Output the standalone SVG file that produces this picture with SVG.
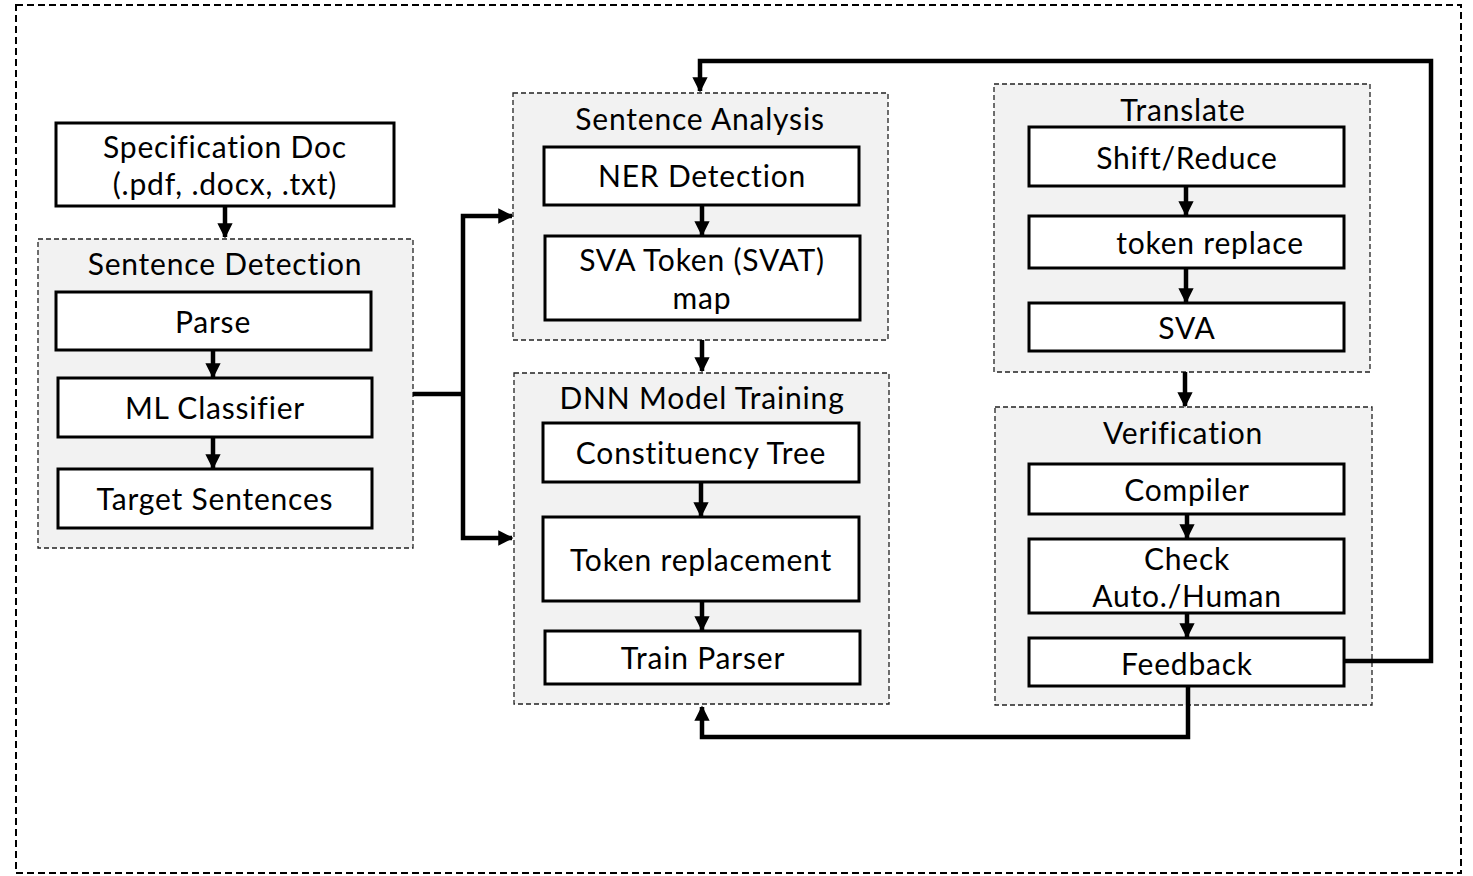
<svg xmlns="http://www.w3.org/2000/svg" width="1473" height="876" viewBox="0 0 1473 876">
<style>
.grp{fill:#f2f2f2;stroke:#222;stroke-width:1.3;stroke-dasharray:5 3}
.box{fill:#fff;stroke:#000;stroke-width:3}
.t{font-family:Lato,"Open Sans",sans-serif;font-size:30px;letter-spacing:0.8px;fill:#000;text-anchor:middle}
.c{fill:none;stroke:#000;stroke-width:4.5;stroke-linejoin:miter}
</style>
<defs>
<marker id="ah" viewBox="0 0 10 10" refX="9" refY="5" markerWidth="3.4" markerHeight="3.4" orient="auto" markerUnits="strokeWidth">
<path d="M0,0 L10,5 L0,10 Z" fill="#000"/>
</marker>
</defs>
<rect x="16" y="5" width="1445" height="868" fill="none" stroke="#000" stroke-width="2" stroke-dasharray="7 4"/>

<g id="spec">
<rect class="box" x="56" y="123" width="338" height="83"/>
<text class="t" x="225" y="158">Specification Doc</text>
<text class="t" x="225" y="195">(.pdf, .docx, .txt)</text>
</g>

<g id="sentence-detection">
<rect class="grp" x="38" y="239" width="375" height="309"/>
<text class="t" x="225" y="275">Sentence Detection</text>
<rect class="box" x="56" y="292" width="315" height="58"/>
<text class="t" x="213" y="333">Parse</text>
<rect class="box" x="58" y="378" width="314" height="59"/>
<text class="t" x="215" y="419">ML Classifier</text>
<rect class="box" x="58" y="469" width="314" height="59"/>
<text class="t" x="215" y="510">Target Sentences</text>
</g>

<g id="sentence-analysis">
<rect class="grp" x="513" y="93" width="375" height="247"/>
<text class="t" x="700" y="130">Sentence Analysis</text>
<rect class="box" x="544" y="147" width="315" height="58"/>
<text class="t" x="702" y="187">NER Detection</text>
<rect class="box" x="545" y="236" width="315" height="84"/>
<text class="t" x="702" y="271">SVA Token (SVAT)</text>
<text class="t" x="702" y="309">map</text>
</g>

<g id="dnn-training">
<rect class="grp" x="514" y="373" width="375" height="331"/>
<text class="t" x="702" y="409">DNN Model Training</text>
<rect class="box" x="543" y="423" width="316" height="59"/>
<text class="t" x="701" y="464">Constituency Tree</text>
<rect class="box" x="543" y="517" width="316" height="84"/>
<text class="t" x="701" y="571">Token replacement</text>
<rect class="box" x="545" y="631" width="315" height="53"/>
<text class="t" x="703" y="669">Train Parser</text>
</g>

<g id="translate">
<rect class="grp" x="994" y="84" width="376" height="288"/>
<text class="t" x="1183" y="121">Translate</text>
<rect class="box" x="1029" y="127" width="315" height="59"/>
<text class="t" x="1187" y="169">Shift/Reduce</text>
<rect class="box" x="1029" y="216" width="315" height="52"/>
<text class="t" x="1210" y="254">token replace</text>
<rect class="box" x="1029" y="303" width="315" height="48"/>
<text class="t" x="1187" y="339">SVA</text>
</g>

<g id="verification">
<rect class="grp" x="995" y="407" width="377" height="298"/>
<text class="t" x="1183" y="444">Verification</text>
<rect class="box" x="1029" y="464" width="315" height="50"/>
<text class="t" x="1187" y="501">Compiler</text>
<rect class="box" x="1029" y="539" width="315" height="74"/>
<text class="t" x="1187" y="570">Check</text>
<text class="t" x="1187" y="607">Auto./Human</text>
<rect class="box" x="1029" y="638" width="315" height="48"/>
<text class="t" x="1187" y="675">Feedback</text>
</g>

<g id="connectors">
<path class="c" d="M225,206 V237" marker-end="url(#ah)"/>
<path class="c" d="M213,350 V377" marker-end="url(#ah)"/>
<path class="c" d="M213,437 V468" marker-end="url(#ah)"/>
<path class="c" d="M413,394 H463"/>
<path class="c" d="M463,394 V538 H512" marker-end="url(#ah)"/>
<path class="c" d="M463,394 V216 H512" marker-end="url(#ah)"/>
<path class="c" d="M702,205 V235" marker-end="url(#ah)"/>
<path class="c" d="M702,340 V371" marker-end="url(#ah)"/>
<path class="c" d="M701,482 V516" marker-end="url(#ah)"/>
<path class="c" d="M702,601 V630" marker-end="url(#ah)"/>
<path class="c" d="M1186,186 V215" marker-end="url(#ah)"/>
<path class="c" d="M1186,268 V302" marker-end="url(#ah)"/>
<path class="c" d="M1185,372 V406" marker-end="url(#ah)"/>
<path class="c" d="M1187,514 V538" marker-end="url(#ah)"/>
<path class="c" d="M1187,613 V637" marker-end="url(#ah)"/>
<path class="c" d="M1344,661 H1431 V61 H700 V91" marker-end="url(#ah)"/>
<path class="c" d="M1188,686 V737 H702 V707" marker-end="url(#ah)"/>
</g>
</svg>
